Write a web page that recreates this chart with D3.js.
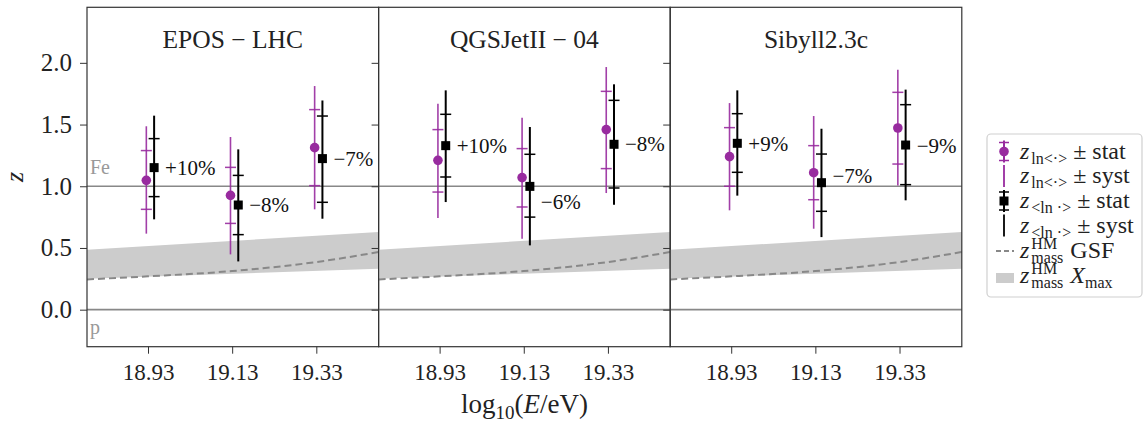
<!DOCTYPE html>
<meta charset="utf-8">
<style>
body { margin: 0; background: #fff; }
svg { display: block; font-family: "Liberation Serif", serif; }
.tick line { stroke: #333; }
.tick text { fill: #222; }
</style>
<svg id="chart" width="1145" height="425"></svg>
<script src="https://d3js.org/d3.v7.min.js"></script>
<script>
// values
var models = ["EPOS \u2212 LHC", "QGSJetII \u2212 04", "Sibyll2.3c"];
var energies = [18.93, 19.13, 19.33];
var yTicks = [0, 0.5, 1, 1.5, 2];

// z_ln<.> (purple) per model, per energy bin
var zLnMean = [[1.048, 0.926, 1.313], [1.210, 1.070, 1.459], [1.240, 1.110, 1.472]];
var zLnMeanStat = [
  [[0.813, 1.289], [0.699, 1.153], [1.005, 1.621]],
  [[0.953, 1.459], [0.832, 1.305], [1.143, 1.769]],
  [[1.000, 1.475], [0.891, 1.329], [1.180, 1.761]]
];
var zLnMeanSyst = [
  [[0.616, 1.486], [0.448, 1.399], [0.813, 1.812]],
  [[0.742, 1.669], [0.575, 1.556], [0.945, 1.966]],
  [[0.805, 1.674], [0.656, 1.569], [1.007, 1.945]]
];

// z_<ln.> (black)
var zMeanLn = [[1.151, 0.848, 1.224], [1.329, 0.999, 1.340], [1.348, 1.029, 1.334]];
var zMeanLnStat = [
  [[0.916, 1.386], [0.608, 1.088], [0.870, 1.569]],
  [[1.075, 1.583], [0.750, 1.259], [0.986, 1.696]],
  [[1.113, 1.588], [0.797, 1.261], [1.013, 1.661]]
];
var zMeanLnSyst = [
  [[0.732, 1.572], [0.391, 1.299], [0.737, 1.695]],
  [[0.872, 1.777], [0.521, 1.480], [0.850, 1.826]],
  [[0.924, 1.777], [0.588, 1.466], [0.886, 1.783]]
];

var diffLabels = [["+10%", "\u22128%", "\u22127%"], ["+10%", "\u22126%", "\u22128%"], ["+9%", "\u22127%", "\u22129%"]];
var labelZ = [[1.151, 0.848, 1.224], [1.331, 0.872, 1.345], [1.345, 1.083, 1.331]];

// z_mass^HM from GSF (dashed) and from Xmax (band), same in every panel
var gsfE = [18.785, 18.93, 19.13, 19.33, 19.478];
var gsfZ = [0.245, 0.270, 0.313, 0.386, 0.467];
var bandE = [18.785, 19.478];
var bandLo = [0.251, 0.332];
var bandHi = [0.486, 0.629];

// layout
var purple = "#982b9f";
var panelLeft = 87, panelW = 291.6, plotTop = 7.3, plotBottom = 346.7;
var svg = d3.select("#chart");

var y = d3.scaleLinear().domain([-0.3, 2.45]).range([plotBottom, plotTop]);

models.forEach(function(model, m) {
  var x0 = panelLeft + m * panelW;
  var x = d3.scaleLinear().domain([18.785, 19.478]).range([x0, x0 + panelW]);
  var g = svg.append("g");

  // Xmax band
  g.append("path")
    .datum(bandE.map(function(e, i) { return [e, bandLo[i], bandHi[i]]; }))
    .attr("fill", "#cccccc")
    .attr("d", d3.area()
      .x(function(d) { return x(d[0]); })
      .y0(function(d) { return y(d[1]); })
      .y1(function(d) { return y(d[2]); }));

  // GSF dashed
  g.append("path")
    .datum(gsfE.map(function(e, i) { return [e, gsfZ[i]]; }))
    .attr("fill", "none")
    .attr("stroke", "#888")
    .attr("stroke-width", 2)
    .attr("stroke-dasharray", "7,4")
    .attr("d", d3.line()
      .curve(d3.curveMonotoneX)
      .x(function(d) { return x(d[0]); })
      .y(function(d) { return y(d[1]); }));

  // Fe and p reference lines
  [0, 1].forEach(function(v) {
    g.append("line")
      .attr("x1", x0).attr("x2", x0 + panelW)
      .attr("y1", y(v)).attr("y2", y(v))
      .attr("stroke", "#888").attr("stroke-width", 1.6);
  });

  if (m === 0) {
    g.append("text").attr("x", x0 + 3).attr("y", y(1) - 12)
      .attr("fill", "#999").style("font-size", "20px").text("Fe");
    g.append("text").attr("x", x0 + 3).attr("y", y(0) + 24)
      .attr("fill", "#999").style("font-size", "20px").text("p");
  }

  // purple points
  energies.forEach(function(e, i) {
    var px = x(e - 0.004);
    var syst = zLnMeanSyst[m][i], stat = zLnMeanStat[m][i];
    g.append("line").attr("x1", px).attr("x2", px)
      .attr("y1", y(syst[0])).attr("y2", y(syst[1]))
      .attr("stroke", purple).attr("stroke-width", 1.6).attr("opacity", 0.9);
    stat.forEach(function(s) {
      g.append("line").attr("x1", px - 5.5).attr("x2", px + 5.5)
        .attr("y1", y(s)).attr("y2", y(s))
        .attr("stroke", purple).attr("stroke-width", 1.5).attr("opacity", 0.9);
    });
    g.append("circle").attr("cx", px).attr("cy", y(zLnMean[m][i])).attr("r", 4.8)
      .attr("fill", purple);
  });

  // black points
  energies.forEach(function(e, i) {
    var bx = x(e + 0.0145);
    var syst = zMeanLnSyst[m][i], stat = zMeanLnStat[m][i];
    g.append("line").attr("x1", bx).attr("x2", bx)
      .attr("y1", y(syst[0])).attr("y2", y(syst[1]))
      .attr("stroke", "#000").attr("stroke-width", 2);
    stat.forEach(function(s) {
      g.append("line").attr("x1", bx - 5.5).attr("x2", bx + 5.5)
        .attr("y1", y(s)).attr("y2", y(s))
        .attr("stroke", "#000").attr("stroke-width", 1.5);
    });
    var v = zMeanLn[m][i];
    g.append("rect").attr("x", bx - 4.5).attr("y", y(v) - 4.5)
      .attr("width", 9).attr("height", 9).attr("fill", "#000");
    g.append("text").attr("x", bx + 11).attr("y", y(labelZ[m][i]))
      .attr("dy", "0.35em").attr("fill", "#111")
      .style("font-size", "21px").text(diffLabels[m][i]);
  });

  // frame
  g.append("rect").attr("x", x0).attr("y", plotTop)
    .attr("width", panelW).attr("height", plotBottom - plotTop)
    .attr("fill", "none").attr("stroke", "#333").attr("stroke-width", 1.2);

  // axes
  var xa = g.append("g").attr("transform", "translate(0," + plotBottom + ")")
    .call(d3.axisBottom(x).tickValues(energies).tickFormat(d3.format(".2f"))
      .tickSize(7).tickPadding(10));
  xa.attr("font-family", null).attr("font-size", null);
  xa.select(".domain").remove();
  xa.selectAll("text").style("font-size", "23px");

  var ya = g.append("g").attr("transform", "translate(" + x0 + ",0)")
    .call(d3.axisLeft(y).tickValues(yTicks)
      .tickFormat(m === 0 ? d3.format(".1f") : function() { return ""; })
      .tickSize(7).tickPadding(8));
  ya.attr("font-family", null).attr("font-size", null);
  ya.select(".domain").remove();
  ya.selectAll("text").style("font-size", "25px");

  // title
  g.append("text").attr("x", x0 + panelW / 2).attr("y", 48)
    .attr("text-anchor", "middle").attr("fill", "#222")
    .style("font-size", "25.5px").text(model);
});

// axis labels
var xl = svg.append("text").attr("x", panelLeft + 1.5 * panelW).attr("y", 413)
  .attr("text-anchor", "middle").attr("fill", "#222").style("font-size", "27px");
xl.append("tspan").text("log");
xl.append("tspan").attr("dy", 6).style("font-size", "19px").text("10");
xl.append("tspan").attr("dy", -6).text("(");
xl.append("tspan").style("font-style", "italic").text("E");
xl.append("tspan").text("/eV)");

svg.append("text").attr("transform", "translate(23," + (plotTop + plotBottom) / 2 + ") rotate(-90)")
  .attr("text-anchor", "middle").attr("fill", "#222")
  .style("font-size", "26px").style("font-style", "italic").text("z");

// legend
var lg = svg.append("g");
lg.append("rect").attr("x", 987).attr("y", 134).attr("width", 155).attr("height", 163)
  .attr("rx", 4).attr("fill", "#fff").attr("stroke", "#d0d0d0").attr("stroke-width", 1.2);

var hx = 1004, tx = 1020, fs = "24px", ss = "16px";

function errHandle(cy, color, statMarker) {
  lg.append("line").attr("x1", hx).attr("x2", hx).attr("y1", cy - 11).attr("y2", cy + 11)
    .attr("stroke", color).attr("stroke-width", statMarker ? 2 : 1.8);
  if (!statMarker) return;
  [cy - 9, cy + 9].forEach(function(c) {
    lg.append("line").attr("x1", hx - 5).attr("x2", hx + 5).attr("y1", c).attr("y2", c)
      .attr("stroke", color).attr("stroke-width", 1.5);
  });
  if (statMarker === "circle") {
    lg.append("circle").attr("cx", hx).attr("cy", cy).attr("r", 4.8).attr("fill", color);
  } else {
    lg.append("rect").attr("x", hx - 4.5).attr("y", cy - 4.5).attr("width", 9).attr("height", 9)
      .attr("fill", color);
  }
}

function zLabel(base, sub, rest) {
  var t = lg.append("text").attr("x", tx).attr("y", base).attr("fill", "#222").style("font-size", fs);
  t.append("tspan").style("font-style", "italic").text("z");
  t.append("tspan").attr("dx", 2).attr("dy", 5).style("font-size", ss).text(sub);
  t.append("tspan").attr("dy", -5).text(" \u00b1 " + rest);
}

var rows = [151.5, 176, 201, 225.5];
errHandle(rows[0], purple, "circle");
zLabel(rows[0] + 7, "ln<\u00b7>", "stat");
errHandle(rows[1], purple, null);
zLabel(rows[1] + 7, "ln<\u00b7>", "syst");
errHandle(rows[2], "#000", "square");
zLabel(rows[2] + 7, "<ln \u00b7>", "stat");
errHandle(rows[3], "#000", null);
zLabel(rows[3] + 7, "<ln \u00b7>", "syst");

// z with stacked HM superscript and mass subscript
function zMassLabel(base, restFn) {
  var t = lg.append("text").attr("x", tx).attr("y", base).attr("fill", "#222").style("font-size", fs);
  t.append("tspan").style("font-style", "italic").text("z");
  var sup = t.append("tspan").attr("dx", 2).attr("dy", -9).style("font-size", ss).text("HM");
  var supW = sup.node().getComputedTextLength();
  t.append("tspan").attr("dx", -supW).attr("dy", 14).style("font-size", ss).text("mass");
  var rest = t.append("tspan").attr("dx", 7).attr("dy", -5);
  restFn(rest);
}

lg.append("line").attr("x1", 996).attr("x2", 1014).attr("y1", 251).attr("y2", 251)
  .attr("stroke", "#888").attr("stroke-width", 1.8).attr("stroke-dasharray", "5,3");
zMassLabel(258, function(t) { t.text("GSF"); });

lg.append("rect").attr("x", 996).attr("y", 273).attr("width", 18).attr("height", 10)
  .attr("fill", "#cccccc");
zMassLabel(283, function(t) {
  t.append("tspan").style("font-style", "italic").text("X");
  t.append("tspan").attr("dy", 5).style("font-size", ss).text("max");
});
</script>
